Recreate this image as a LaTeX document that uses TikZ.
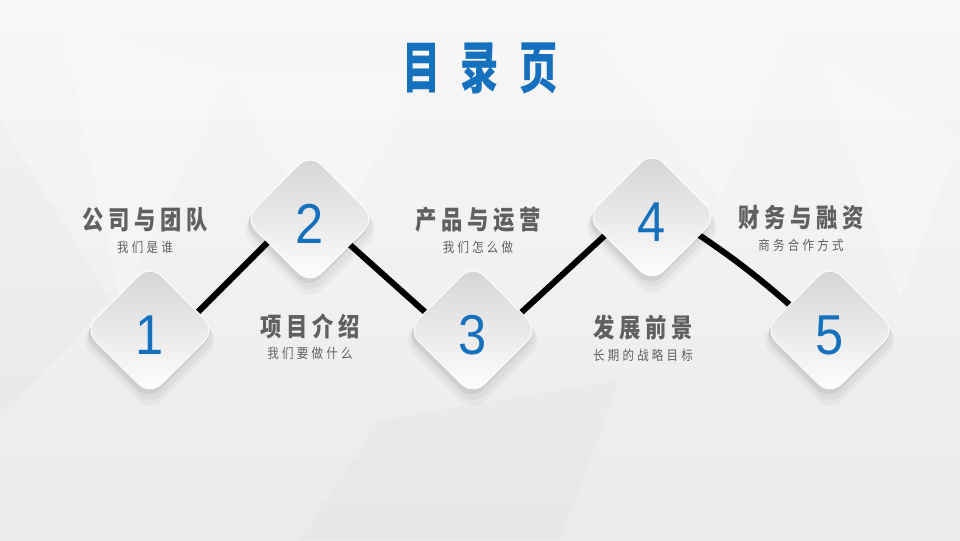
\documentclass[tikz,border=0pt]{standalone}
\usepackage{fontspec}
\usepackage{xcolor}
\usetikzlibrary{positioning,shapes.geometric,shadows}
\newfontfamily\titlefont[FakeStretch=0.68,LetterSpace=36]{Noto Sans CJK SC}
\newfontfamily\headfont[FakeStretch=0.82,LetterSpace=18]{Noto Sans CJK SC}
\newfontfamily\subfont[FakeStretch=0.85,LetterSpace=24]{Noto Sans CJK SC}
\newfontfamily\numfont[FakeStretch=0.9]{Liberation Sans}
\definecolor{tocblue}{HTML}{1570BE}
\definecolor{txtgray}{HTML}{606060}
\pgfdeclarelayer{back}
\pgfdeclarelayer{wire}
\pgfsetlayers{back,wire,main}

\begin{document}
\begin{tikzpicture}[x=0.025cm, y=-0.025cm,
  tile/.style={diamond, aspect=1, minimum size=3.28cm, inner sep=0pt,
               rounded corners=0.4cm, top color=black!17, bottom color=white,
               draw=white, line width=0.6pt,
               general shadow={fill=black, opacity=0.03, shadow scale=1.1, shadow yshift=-7pt},
               general shadow={fill=black, opacity=0.04, shadow scale=1.06, shadow yshift=-5pt},
               general shadow={fill=black, opacity=0.06, shadow scale=1.02, shadow yshift=-3pt, shadow xshift=-1pt},
               font=\numfont\fontsize{40}{40}\selectfont, text=tocblue,
               text height=1.2cm, text depth=0pt},
  wire/.style={line width=4.3pt, black},
  head/.style={inner sep=0pt, text=txtgray,
               font=\headfont\bfseries\fontsize{18.5}{20}\selectfont},
  sub/.style={inner sep=0pt, text=txtgray,
              font=\subfont\fontsize{9.6}{11}\selectfont},
  facet/.style={fill=white, opacity=0.25, draw=none}
]
\useasboundingbox (0,0) rectangle (960,540);

% background
\begin{pgfonlayer}{back}
\fill[top color=black!3, bottom color=black!8] (0,0) rectangle (960,540);
\fill[facet] (60,20) -- (230,75) -- (120,300) -- cycle;
\fill[facet] (230,75) -- (420,70) -- (330,250) -- cycle;
\fill[facet] (600,40) -- (790,20) -- (720,200) -- cycle;
\fill[facet] (820,60) -- (960,140) -- (900,300) -- cycle;
\fill[black, opacity=0.015] (0,120) -- (110,300) -- (0,420) -- cycle;
\fill[black, opacity=0.015] (380,420) -- (620,380) -- (560,540) -- (300,540) -- cycle;
\end{pgfonlayer}

% title
\node[text=tocblue, font=\titlefont\bfseries\fontsize{40}{44}\selectfont]
  (title) at (480,68) {目录页};

% tiles
\node[tile] (d1) at (150,330) {1};
\node[tile] (d2) at (310,219) {2};
\node[tile] (d3) at (473,330) {3};
\node[tile] (d4) at (652,217) {4};
\node[tile] (d5) at (830,330) {5};

% zigzag behind the tiles
\begin{pgfonlayer}{wire}
\draw[wire] ([shift={(0,30)}]d1.center) -- ([shift={(0,-19)}]d2.center);
\draw[wire] ([shift={(0,-10)}]d2.center) -- ([shift={(0,25)}]d3.center);
\draw[wire] ([shift={(0,27)}]d3.center) -- ([shift={(0,-25)}]d4.center);
\draw[wire] ([shift={(0,-12)}]d4.center) to[bend left=6] ([shift={(0,12)}]d5.center);
\end{pgfonlayer}

% labels
\node[head] (h1) at (145,220) {公司与团队};
\node[sub, below=0.2cm of h1] (s1) {我们是谁};
\node[head] (h2) at (310,326) {项目介绍};
\node[sub, below=0.2cm of h2] (s2) {我们要做什么};
\node[head] (h3) at (478,220) {产品与运营};
\node[sub, below=0.2cm of h3] (s3) {我们怎么做};
\node[head] (h4) at (643,328) {发展前景};
\node[sub, below=0.2cm of h4] (s4) {长期的战略目标};
\node[head] (h5) at (801,218) {财务与融资};
\node[sub, below=0.2cm of h5] (s5) {商务合作方式};
\end{tikzpicture}
\end{document}
